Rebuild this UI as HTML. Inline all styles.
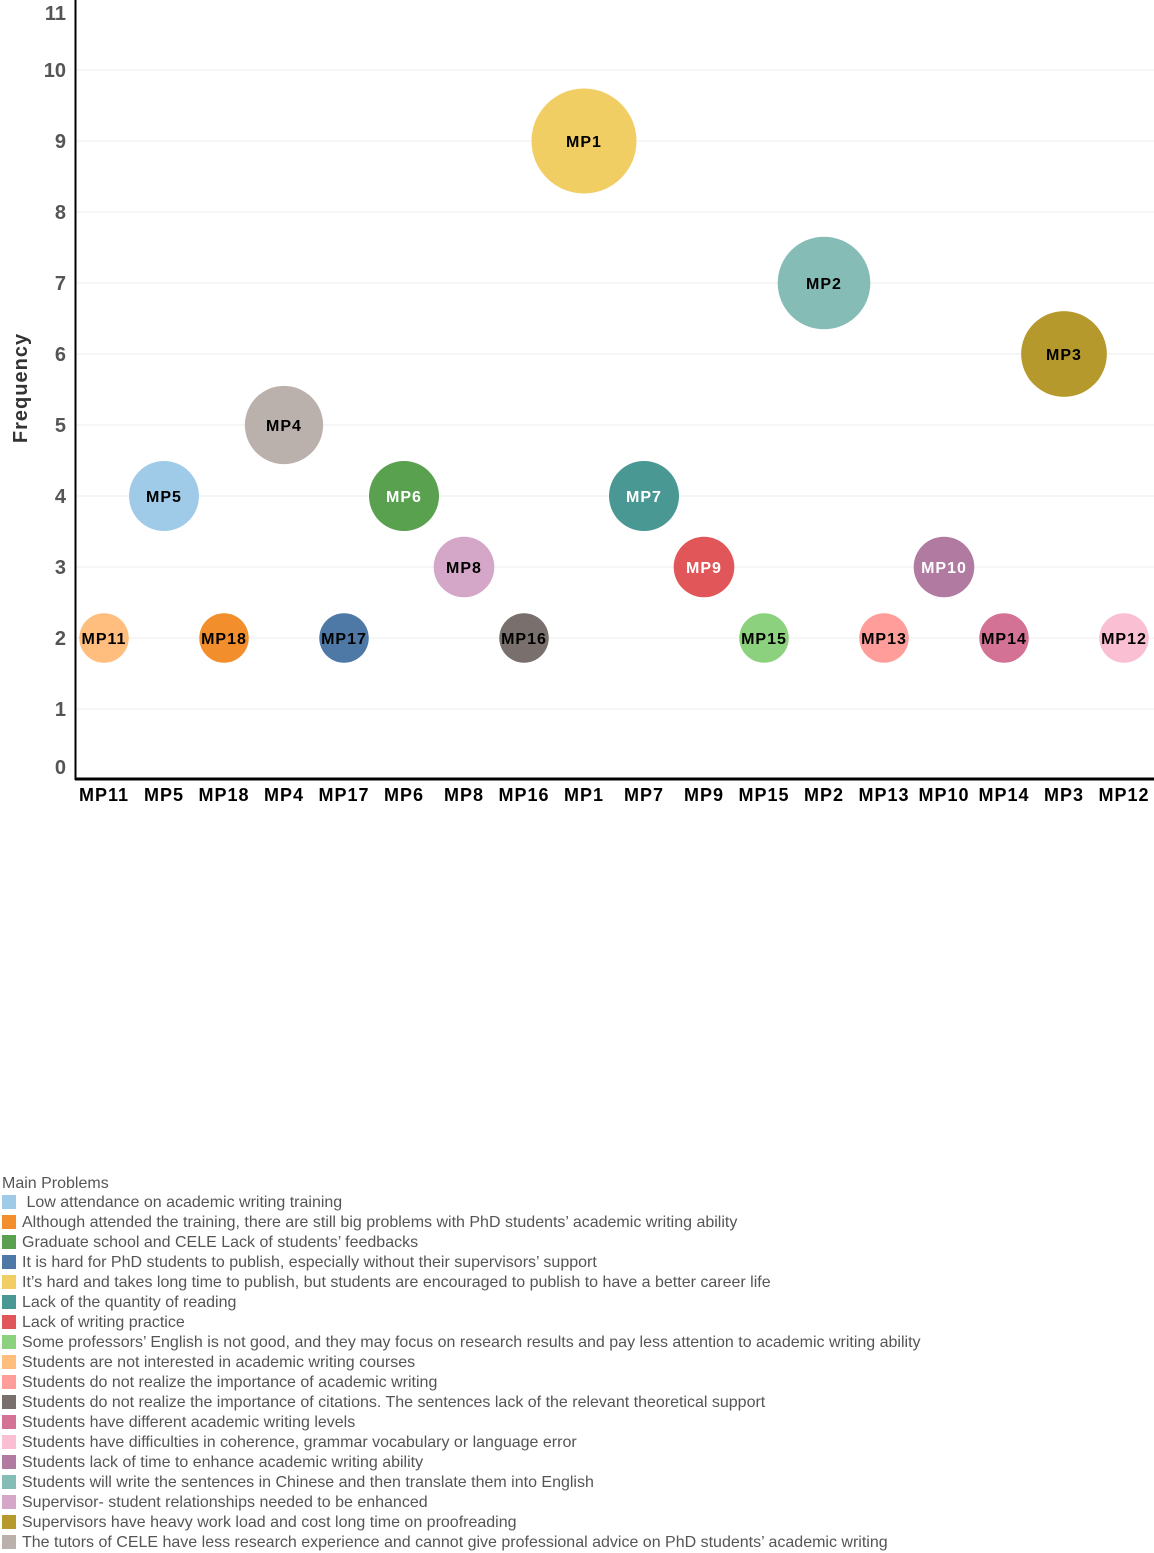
<!DOCTYPE html>
<html><head><meta charset="utf-8"><style>
body{margin:0;background:#fff;width:1154px;height:1553px;overflow:hidden;font-family:"Liberation Sans",sans-serif}
.leg{position:absolute;left:2px;font-size:16px;color:#555;white-space:nowrap}
.sw{display:inline-block;width:14px;height:14px;vertical-align:-2px;margin-right:6px}
</style></head><body>
<svg id="chart" width="1154" height="820" style="position:absolute;left:0;top:0"></svg>
<div id="legend"></div>
<script>
const categories=["MP11","MP5","MP18","MP4","MP17","MP6","MP8","MP16","MP1","MP7","MP9","MP15","MP2","MP13","MP10","MP14","MP3","MP12"];
const values=[2,4,2,5,2,4,3,2,9,4,3,2,7,2,3,2,6,2];
const colors=["#ffbe7d","#a0cbe8","#f28e2b","#bab0ac","#4e79a7","#59a14f","#d4a6c8","#79706e","#f1ce63","#499894","#e15759","#8cd17d","#86bcb6","#ff9d9a","#b07aa1","#d37295","#b6992d","#fabfd2"];
const whiteLabel=["MP6","MP7","MP9","MP10"];
const yTicks=[0,1,2,3,4,5,6,7,8,9,10,11];
const legendLabels=[" Low attendance on academic writing training","Although attended the training, there are still big problems with PhD students’ academic writing ability","Graduate school and CELE Lack of students’ feedbacks","It is hard for PhD students to publish, especially without their supervisors’ support","It’s hard and takes long time to publish, but students are encouraged to publish to have a better career life","Lack of the quantity of reading","Lack of writing practice","Some professors’ English is not good, and they may focus on research results and pay less attention to academic writing ability","Students are not interested in academic writing courses","Students do not realize the importance of academic writing","Students do not realize the importance of citations. The sentences lack of the relevant theoretical support","Students have different academic writing levels","Students have difficulties in coherence, grammar vocabulary or language error","Students lack of time to enhance academic writing ability","Students will write the sentences in Chinese and then translate them into English","Supervisor- student relationships needed to be enhanced","Supervisors have heavy work load and cost long time on proofreading","The tutors of CELE have less research experience and cannot give professional advice on PhD students’ academic writing"];
const legendColors=["#a0cbe8","#f28e2b","#59a14f","#4e79a7","#f1ce63","#499894","#e15759","#8cd17d","#ffbe7d","#ff9d9a","#79706e","#d37295","#fabfd2","#b07aa1","#86bcb6","#d4a6c8","#b6992d","#bab0ac"];

const NS="http://www.w3.org/2000/svg";
const svg=document.getElementById('chart');
const y=v=>780-71*v;
const x=i=>104+60*i;
const r=v=>17.5*Math.sqrt(v);
function mk(t,a,p){const e=document.createElementNS(NS,t);for(const k in a)e.setAttribute(k,a[k]);(p||svg).appendChild(e);return e;}
yTicks.forEach(t=>{
  if(t>0){const g=mk('line',{x1:76,x2:1154,y1:y(t),y2:y(t),stroke:'#ececec','stroke-width':1});
  
  }
  const l=mk('text',{x:66,y:Math.max(y(t)+7,20)-(t===0?13:0),'text-anchor':'end','font-size':20,'font-weight':'bold',fill:'#555','font-family':'Liberation Sans, sans-serif'});
  l.textContent=t;
  
  
});
const yt=mk('text',{x:0,y:0,transform:'translate(27,388) rotate(-90)','text-anchor':'middle','font-size':20,'font-weight':'bold',fill:'#333','font-family':'Liberation Sans, sans-serif','letter-spacing':1});
yt.textContent='Frequency';


const ax=mk('line',{x1:75.5,x2:75.5,y1:0,y2:780,stroke:'#000','stroke-width':2});


const xa=mk('line',{x1:75,x2:1154,y1:779,y2:779,stroke:'#000','stroke-width':3});


categories.forEach((c,i)=>{
  const v=values[i];
  const ci=mk('circle',{cx:x(i),cy:y(v),r:r(v),fill:colors[i]});
  
  
  const t=mk('text',{x:x(i),y:y(v)+6,'text-anchor':'middle','font-size':16,'font-weight':'bold','letter-spacing':1,fill:whiteLabel.includes(c)?'#fff':'#000','font-family':'Liberation Sans, sans-serif'});
  t.textContent=c;
  
  
  const xl=mk('text',{x:x(i),y:801,'text-anchor':'middle','font-size':18,'font-weight':'bold','letter-spacing':1,fill:'#000','font-family':'Liberation Sans, sans-serif'});
  xl.textContent=c;
  
  
});
const lg=document.getElementById('legend');
const ttl=document.createElement('div');ttl.className='leg';ttl.style.top='1175px';ttl.textContent='Main Problems';


lg.appendChild(ttl);
legendLabels.forEach((s,i)=>{
  const d=document.createElement('div');d.className='leg';d.style.top=(1194+20*i)+'px';
  
  
  const sw=document.createElement('span');sw.className='sw';sw.style.background=legendColors[i];
  
  
  d.appendChild(sw);d.appendChild(document.createTextNode(s));lg.appendChild(d);
});
</script>
</body></html>
